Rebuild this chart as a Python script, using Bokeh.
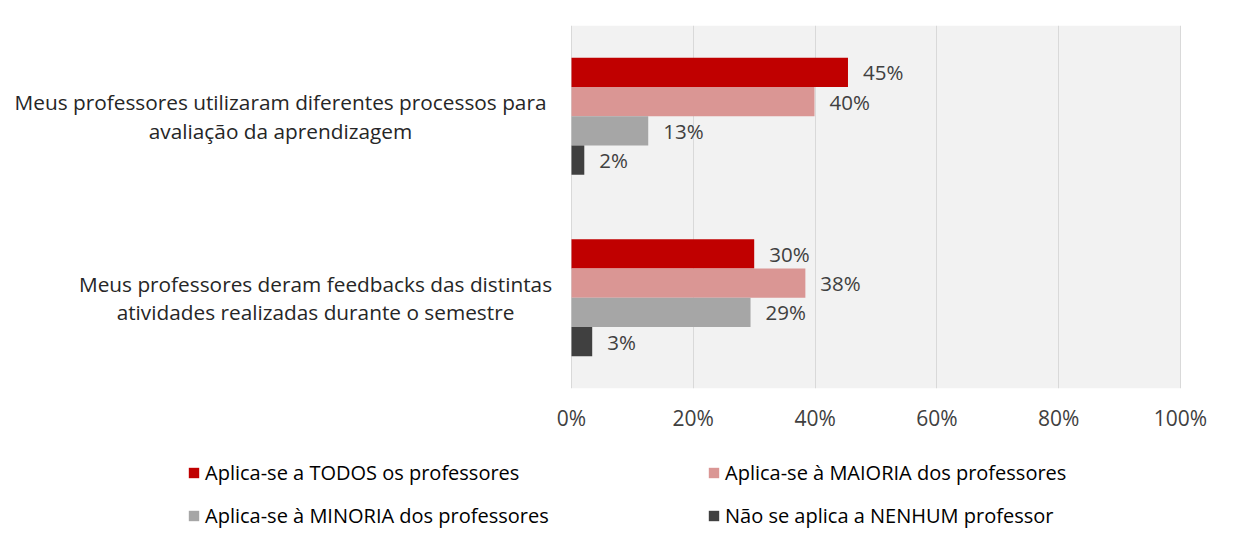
from bokeh.plotting import figure
from bokeh.layouts import column
from bokeh.models import (Range1d, FactorRange, Label, Legend, LegendItem, BoxAnnotation,
                          NumeralTickFormatter, FixedTicker, ColumnDataSource)
from bokeh.transform import dodge
from bokeh.embed import file_html
from bokeh.resources import INLINE
from bokeh.core.properties import value

# ---- data ----
categories = [
    "Meus professores utilizaram diferentes processos para avaliação da aprendizagem",
    "Meus professores deram feedbacks das distintas atividades realizadas durante o semestre",
]
category_lines = [
    ["Meus professores utilizaram diferentes processos para", "avaliação da aprendizagem"],
    ["Meus professores deram feedbacks das distintas", "atividades realizadas durante o semestre"],
]
series_names = [
    "Aplica-se a TODOS os professores",
    "Aplica-se à MAIORIA dos professores",
    "Aplica-se à MINORIA dos professores",
    "Não se aplica a NENHUM professor",
]
todos = [0.454, 0.300]
maioria = [0.399, 0.384]
minoria = [0.126, 0.294]
nenhum = [0.021, 0.034]
x_ticks = [0, 0.2, 0.4, 0.6, 0.8, 1.0]

series_values = [todos, maioria, minoria, nenhum]
colors = ["#c00000", "#da9694", "#a6a6a6", "#404040"]
offsets = [0.242, 0.081, -0.081, -0.242]
label_centers = [-291, -256]  # px offset of category label centre from x=0

FONT = "Open Sans"

# layout geometry (pixels)
W = 1250
PL, PR = 571, 1180          # plot-area left / right edge
TOP, BOTTOM = 25, 388       # plot-area top / bottom edge
AXIS_H = 50
H1 = BOTTOM + AXIS_H
H2 = 541 - H1
span = PR - PL
x0, x1 = x_ticks[0], x_ticks[-1]
xr = Range1d(x0 - (x1 - x0) * PL / span, x1 + (x1 - x0) * (W - PR) / span)

factors = list(reversed(categories))
p = figure(width=W, height=H1, x_range=xr,
           y_range=FactorRange(factors=factors),
           output_backend="svg", toolbar_location=None,
           min_border_left=0, min_border_right=0,
           min_border_top=TOP, min_border_bottom=AXIS_H)
p.background_fill_color = "white"
p.border_fill_color = "white"
p.outline_line_color = None

# grey plot area
p.add_layout(BoxAnnotation(left=x0, right=x1, fill_color="#f2f2f2", fill_alpha=1,
                           line_color=None, level="image"))

p.yaxis.visible = False
p.ygrid.grid_line_color = None
p.xgrid.grid_line_color = "#d9d9d9"
p.xgrid.ticker = FixedTicker(ticks=x_ticks)
p.xaxis.ticker = FixedTicker(ticks=x_ticks)
p.xaxis.formatter = NumeralTickFormatter(format="0%")
p.xaxis.axis_line_color = None
p.xaxis.major_tick_line_color = None
p.xaxis.major_tick_out = 0
p.xaxis.major_tick_in = 0
p.xaxis.minor_tick_line_color = None
p.xaxis.major_label_standoff = 15
p.xaxis.major_label_text_font = FONT
p.xaxis.major_label_text_font_size = "21px"
p.xaxis.major_label_text_color = "#404040"

sources = []
for name, vals, col, off in zip(series_names, series_values, colors, offsets):
    src = ColumnDataSource(dict(cat=categories, val=vals,
                                lab=[f"{round(v * 100)}%" for v in vals]))
    sources.append(src)
    p.hbar(y=dodge("cat", off, range=p.y_range), left=0, right="val",
           height=0.161, source=src, fill_color=col, line_color=None)
    p.text(x="val", y=dodge("cat", off, range=p.y_range), text="lab", source=src,
           x_offset=15, text_baseline="middle", text_align="left",
           text_font=value(FONT), text_font_size="20.5px", text_color="#404040")

for cat, lines, cx in zip(categories, category_lines, label_centers):
    ysyn = factors.index(cat) + 0.5  # synthetic coordinate of the factor centre
    for j, line in enumerate(lines):
        p.add_layout(Label(x=0, y=ysyn, x_offset=cx, y_offset=14 - 28.5 * j,
                           text=line, text_align="center", text_baseline="middle",
                           text_font=FONT, text_font_size="20.8px",
                           text_color="#262626"))

# ---- legend strip (hidden copies of the bars serve as legend glyphs) ----
q = figure(width=W, height=H2, x_range=Range1d(x0, x1),
           y_range=FactorRange(factors=factors),
           output_backend="svg", toolbar_location=None,
           x_axis_type=None, y_axis_type=None,
           min_border_left=0, min_border_right=0, min_border_top=0, min_border_bottom=0)
q.grid.visible = False
q.outline_line_color = None
q.background_fill_color = "white"
q.border_fill_color = "white"

items = []
for name, src, col, off in zip(series_names, sources, colors, offsets):
    r = q.hbar(y=dodge("cat", off, range=q.y_range), left=0, right="val",
               height=0.161, source=src, fill_color=col, line_color=None,
               visible=False)
    items.append(LegendItem(label=name, renderers=[r]))

legend = Legend(items=items, ncols=2, location=(187, 12),
                orientation="horizontal",
                glyph_width=13, glyph_height=13, label_standoff=5,
                label_width=486, label_height=20, spacing=16, padding=0,
                margin=0, border_line_color=None, background_fill_alpha=0,
                inactive_fill_alpha=0,
                label_text_font=FONT, label_text_font_size="20px",
                label_text_color="#000000")
q.add_layout(legend, "center")

layout = column(p, q, spacing=0)
open("out.html", "w").write(file_html(layout, INLINE))
